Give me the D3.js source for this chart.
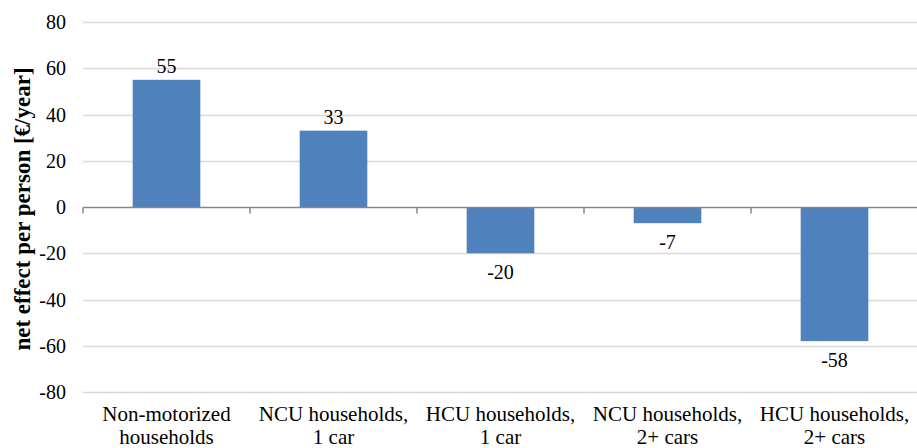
<!DOCTYPE html>
<html>
<head>
<meta charset="utf-8">
<script src="https://cdn.jsdelivr.net/npm/d3@7"></script>
<style>
  body { margin: 0; background: #fff; }
  text { font-family: "Liberation Serif", "Times New Roman", serif; fill: #000; }
</style>
</head>
<body>
<svg class="chart"></svg>
<script>
var categories = [
  ["Non-motorized", "households"],
  ["NCU households,", "1 car"],
  ["HCU households,", "1 car"],
  ["NCU households,", "2+ cars"],
  ["HCU households,", "2+ cars"]
];
var values = [55, 33, -20, -7, -58];
var yTicks = [-80, -60, -40, -20, 0, 20, 40, 60, 80];

var width = 917, height = 448;
var mLeft = 83, mRight = 918, mTop = 22, mBottom = 392;

var svg = d3.select(".chart").attr("width", width).attr("height", height);

var x = d3.scaleBand().domain(d3.range(categories.length)).range([mLeft, mRight]);
var y = d3.scaleLinear().domain([-80, 80]).range([mBottom, mTop]);
var barW = x.bandwidth() * 0.405;

// gridlines
svg.append("g").selectAll("line")
   .data(yTicks.filter(function(d) { return d !== 0; }))
   .enter().append("line")
   .attr("x1", mLeft).attr("x2", width)
   .attr("y1", function(d) { return Math.round(y(d)) + 0.5; })
   .attr("y2", function(d) { return Math.round(y(d)) + 0.5; })
   .attr("stroke", "#d9d9d9").attr("stroke-width", 1.5);

// y tick labels
svg.append("g").selectAll("text")
   .data(yTicks).enter().append("text")
   .attr("x", 66).attr("y", function(d) { return y(d); })
   .attr("dy", "0.35em")
   .attr("text-anchor", "end")
   .style("font-size", "20px")
   .text(function(d) { return d; });

// bars
svg.append("g").selectAll("rect")
   .data(values).enter().append("rect")
   .attr("x", function(d, i) { return x(i) + (x.bandwidth() - barW) / 2; })
   .attr("width", barW)
   .attr("y", function(d) { return y(Math.max(0, d)); })
   .attr("height", function(d) { return Math.abs(y(d) - y(0)); })
   .attr("fill", "#4f81bd");

// zero axis with ticks
var zeroY = Math.round(y(0)) + 0.5;
var axis = svg.append("g").attr("stroke", "#868686").attr("stroke-width", 1.5);
axis.append("line").attr("x1", mLeft).attr("x2", width).attr("y1", zeroY).attr("y2", zeroY);
axis.selectAll(".tk")
   .data(d3.range(categories.length + 1)).enter().append("line")
   .attr("x1", function(i) { return mLeft + i * x.bandwidth(); })
   .attr("x2", function(i) { return mLeft + i * x.bandwidth(); })
   .attr("y1", zeroY).attr("y2", zeroY + 6);

// value labels
svg.append("g").selectAll("text")
   .data(values).enter().append("text")
   .attr("x", function(d, i) { return x(i) + x.bandwidth() / 2; })
   .attr("y", function(d) { return d >= 0 ? y(d) - 7 : y(d) + 26; })
   .attr("text-anchor", "middle")
   .style("font-size", "20px")
   .text(function(d) { return d; });

// category labels
var cat = svg.append("g").selectAll("text")
   .data(categories).enter().append("text")
   .attr("text-anchor", "middle")
   .style("font-size", "21px")
   .attr("transform", function(d, i) { return "translate(" + (x(i) + x.bandwidth() / 2) + ",421)"; });
cat.append("tspan").attr("x", 0).attr("y", 0).text(function(d) { return d[0]; });
cat.append("tspan").attr("x", 0).attr("y", 23).text(function(d) { return d[1]; });

// y-axis title
svg.append("text")
   .attr("transform", "translate(30,209) rotate(-90)")
   .attr("text-anchor", "middle")
   .style("font-size", "23px")
   .style("font-weight", "bold")
   .text("net effect per person [€/year]");
</script>
</body>
</html>
